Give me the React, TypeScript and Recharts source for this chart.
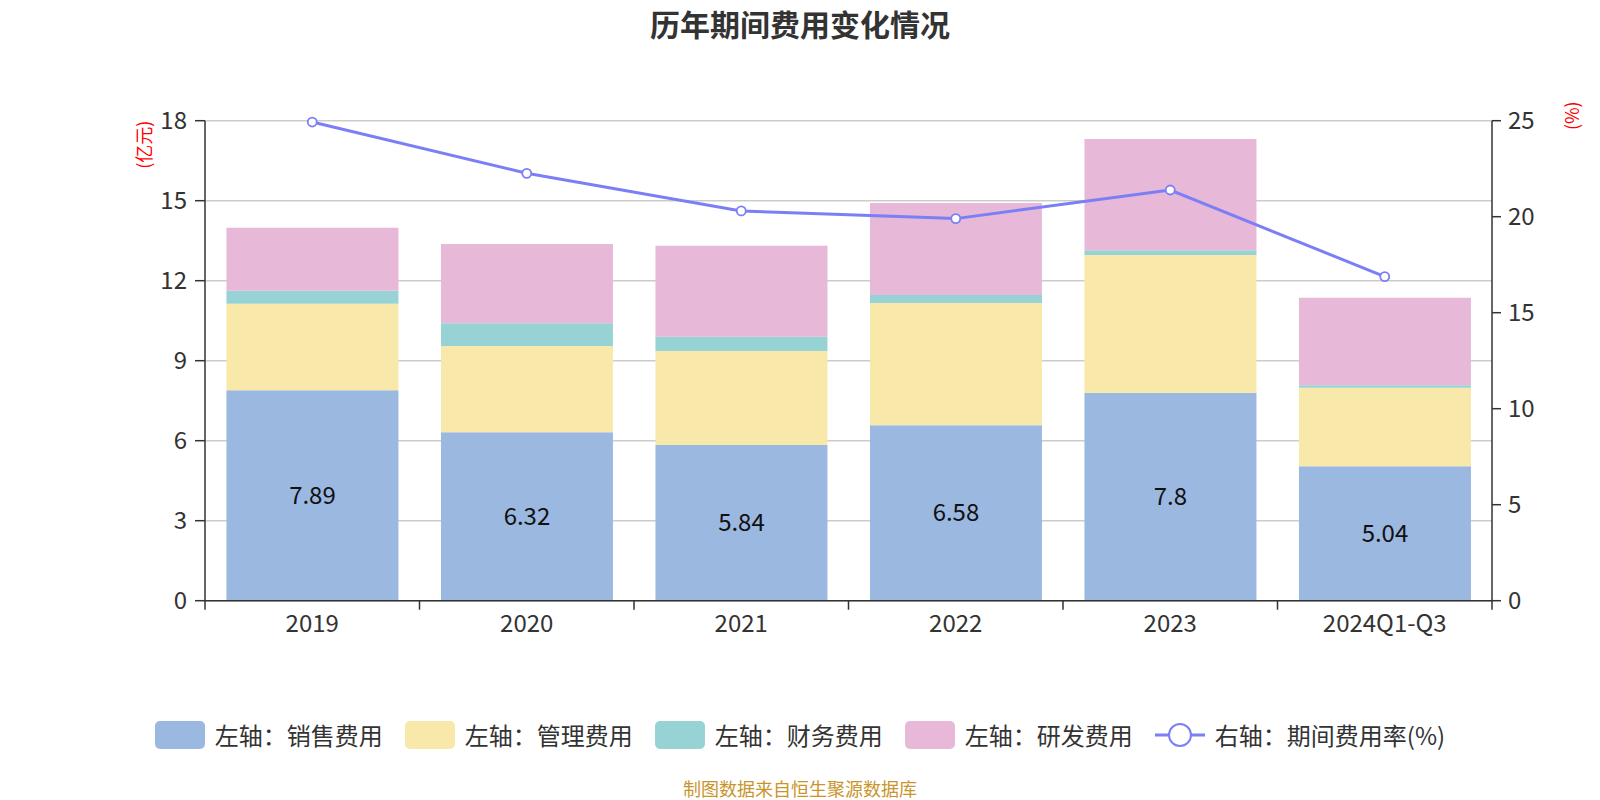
import React from 'react';
import {
  ComposedChart,
  Bar,
  Line,
  XAxis,
  YAxis,
  CartesianGrid,
  Legend,
  LabelList,
  Label,
} from 'recharts';

const categories = ['2019', '2020', '2021', '2022', '2023', '2024Q1-Q3'];
const salesExpense = [7.89, 6.32, 5.84, 6.58, 7.8, 5.04];
const adminExpense = [3.25, 3.23, 3.52, 4.58, 5.16, 2.95];
const financeExpense = [0.48, 0.85, 0.54, 0.3, 0.18, 0.09];
const rndExpense = [2.37, 2.98, 3.41, 3.45, 4.17, 3.28];
const expenseRate = [24.93, 22.26, 20.3, 19.9, 21.39, 16.88];

const leftTicks = [0, 3, 6, 9, 12, 15, 18];
const rightTicks = [0, 5, 10, 15, 20, 25];

const seriesNames = {
  sales: '左轴：销售费用',
  admin: '左轴：管理费用',
  finance: '左轴：财务费用',
  rnd: '左轴：研发费用',
  rate: '右轴：期间费用率(%)',
};
const seriesOrder = ['sales', 'admin', 'finance', 'rnd', 'rate'];

const COLORS = {
  sales: '#9bb8e1',
  admin: '#f8e8aa',
  finance: '#97d3d4',
  rnd: '#e7b8d8',
  rate: '#7b7ff5',
};

const data = categories.map((name, i) => ({
  name,
  sales: salesExpense[i],
  admin: adminExpense[i],
  finance: financeExpense[i],
  rnd: rndExpense[i],
  rate: expenseRate[i],
}));

const FONT = "'Noto Sans CJK SC', 'Noto Sans', sans-serif";
const AXIS_COLOR = '#333';

const renderLegend = (props: any) => {
  const payload = [...(props.payload || [])].sort(
    (a: any, b: any) => seriesOrder.indexOf(a.dataKey) - seriesOrder.indexOf(b.dataKey)
  );
  return (
    <div
      style={{
        display: 'flex',
        justifyContent: 'center',
        alignItems: 'center',
        gap: 22,
        fontFamily: FONT,
        fontSize: 24,
        color: '#333',
      }}
    >
      {payload.map((entry: any) => (
        <div key={entry.dataKey} style={{ display: 'flex', alignItems: 'center' }}>
          <svg width={50} height={28} style={{ display: 'block' }}>
            {entry.type === 'line' ? (
              <g>
                <line x1={0} y1={14} x2={50} y2={14} stroke={entry.color} strokeWidth={3} />
                <circle cx={25} cy={14} r={11} fill="#fff" stroke={entry.color} strokeWidth={2} />
              </g>
            ) : (
              <rect x={0} y={0} width={50} height={28} rx={5} ry={5} fill={entry.color} />
            )}
          </svg>
          <span style={{ marginLeft: 10, lineHeight: '28px', whiteSpace: 'nowrap' }}>{entry.value}</span>
        </div>
      ))}
    </div>
  );
};

const LeftUnit = (props: any) => {
  const vb = props.viewBox || {};
  const cx = vb.x + vb.width - 61.5;
  const cy = vb.y + 24;
  return (
    <text
      x={cx}
      y={cy}
      transform={`rotate(-90 ${cx} ${cy})`}
      textAnchor="middle"
      dominantBaseline="central"
      fill="#ff0000"
      fontSize={18}
      fontFamily={FONT}
    >
      (亿元)
    </text>
  );
};

const RightUnit = (props: any) => {
  const vb = props.viewBox || {};
  const cx = vb.x + 79;
  const cy = vb.y - 5;
  return (
    <text
      x={cx}
      y={cy}
      transform={`rotate(-90 ${cx} ${cy})`}
      textAnchor="middle"
      dominantBaseline="central"
      fill="#ff0000"
      fontSize={18}
      fontFamily={FONT}
    >
      (%)
    </text>
  );
};

// Category tick: label at the band centre, tick marks at the band boundaries
const CategoryTick = (props: any) => {
  const { x, y, payload, index, visibleTicksCount } = props;
  const half = payload && typeof payload.offset === 'number' ? payload.offset : 0;
  const isLast = index === (visibleTicksCount ?? categories.length) - 1;
  return (
    <g>
      {half > 0 && (
        <line x1={x - half} y1={y} x2={x - half} y2={y + 9} stroke={AXIS_COLOR} strokeWidth={1.5} />
      )}
      {half > 0 && isLast && (
        <line x1={x + half} y1={y} x2={x + half} y2={y + 9} stroke={AXIS_COLOR} strokeWidth={1.5} />
      )}
      <text
        x={x}
        y={y + 14}
        dy="0.71em"
        textAnchor="middle"
        fill={AXIS_COLOR}
        fontSize={24}
        fontFamily={FONT}
      >
        {payload.value}
      </text>
    </g>
  );
};

export default function App() {
  return (
    <div
      style={{
        position: 'absolute',
        left: 0,
        top: 0,
        width: 1600,
        height: 800,
        background: '#fff',
        fontFamily: FONT,
      }}
    >
      <div
        style={{
          position: 'absolute',
          left: 0,
          top: 0,
          width: 1600,
          height: 47,
          lineHeight: '47px',
          textAlign: 'center',
          fontSize: 30,
          fontWeight: 'bold',
          color: '#333',
          zIndex: 2,
        }}
      >
        历年期间费用变化情况
      </div>
      <ComposedChart
        width={1600}
        height={800}
        data={data}
        margin={{ top: 120.7, right: 0, bottom: 158.3, left: 0 }}
        barCategoryGap="10%"
      >
        <CartesianGrid yAxisId="left" vertical={false} stroke="#cccccc" strokeWidth={1.5} />
        <XAxis
          xAxisId="cat"
          dataKey="name"
          type="category"
          interval={0}
          height={41}
          axisLine={{ stroke: AXIS_COLOR, strokeWidth: 1.5 }}
          tickLine={false}
          tickSize={0}
          tickMargin={0}
          tick={CategoryTick}
        />
        <YAxis
          yAxisId="left"
          orientation="left"
          domain={[0, 18]}
          ticks={leftTicks}
          interval={0}
          width={205}
          tickSize={10}
          tickMargin={8}
          axisLine={{ stroke: AXIS_COLOR, strokeWidth: 1.5 }}
          tickLine={{ stroke: AXIS_COLOR, strokeWidth: 1.5 }}
          tick={{ fill: AXIS_COLOR, fontSize: 24, fontFamily: FONT }}
        >
          <Label content={LeftUnit} />
        </YAxis>
        <YAxis
          yAxisId="right"
          orientation="right"
          domain={[0, 25]}
          ticks={rightTicks}
          interval={0}
          width={108}
          tickSize={9}
          tickMargin={7}
          axisLine={{ stroke: AXIS_COLOR, strokeWidth: 1.5 }}
          tickLine={{ stroke: AXIS_COLOR, strokeWidth: 1.5 }}
          tick={{ fill: AXIS_COLOR, fontSize: 24, fontFamily: FONT }}
        >
          <Label content={RightUnit} />
        </YAxis>
        <Legend
          layout="horizontal"
          verticalAlign="middle"
          align="center"
          wrapperStyle={{ top: 721, left: 0, width: 1600 }}
          content={renderLegend}
        />
        <Bar
          xAxisId="cat"
          yAxisId="left"
          dataKey="sales"
          name={seriesNames.sales}
          stackId="exp"
          fill={COLORS.sales}
          isAnimationActive={false}
        >
          <LabelList dataKey="sales" position="center" fill="#111" fontSize={24} fontFamily={FONT} />
        </Bar>
        <Bar
          xAxisId="cat"
          yAxisId="left"
          dataKey="admin"
          name={seriesNames.admin}
          stackId="exp"
          fill={COLORS.admin}
          isAnimationActive={false}
        />
        <Bar
          xAxisId="cat"
          yAxisId="left"
          dataKey="finance"
          name={seriesNames.finance}
          stackId="exp"
          fill={COLORS.finance}
          isAnimationActive={false}
        />
        <Bar
          xAxisId="cat"
          yAxisId="left"
          dataKey="rnd"
          name={seriesNames.rnd}
          stackId="exp"
          fill={COLORS.rnd}
          isAnimationActive={false}
        />
        <Line
          xAxisId="cat"
          yAxisId="right"
          type="linear"
          dataKey="rate"
          name={seriesNames.rate}
          stroke={COLORS.rate}
          strokeWidth={3}
          dot={{ r: 4.5, fill: '#fff', stroke: COLORS.rate, strokeWidth: 1.8 }}
          activeDot={false}
          isAnimationActive={false}
        />
      </ComposedChart>
      <div
        style={{
          position: 'absolute',
          left: 0,
          top: 776,
          width: 1600,
          height: 24,
          lineHeight: '24px',
          textAlign: 'center',
          fontSize: 18,
          color: '#c9952b',
        }}
      >
        制图数据来自恒生聚源数据库
      </div>
    </div>
  );
}
